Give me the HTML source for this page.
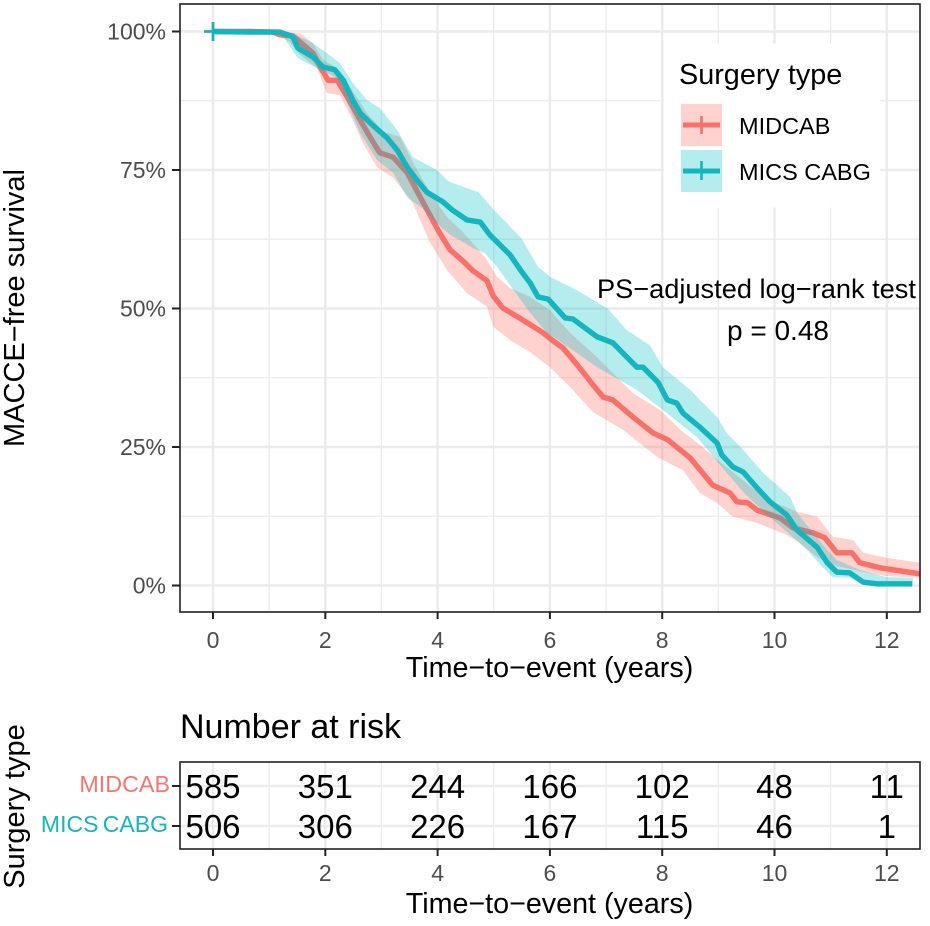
<!DOCTYPE html>
<html>
<head>
<meta charset="utf-8">
<style>
html,body{margin:0;padding:0;background:#fff;width:930px;height:926px;overflow:hidden}
svg{display:block}
text{font-family:"Liberation Sans",sans-serif}
</style>
</head>
<body>
<svg id="chart" xmlns="http://www.w3.org/2000/svg" width="930" height="926" viewBox="0 0 930 926">
<defs>
<clipPath id="main-clip"><rect x="180" y="4" width="740" height="608"/></clipPath>
</defs>
<rect x="0" y="0" width="930" height="926" fill="#fff"/>
<g id="main-grid"></g>
<g id="main-marks" clip-path="url(#main-clip)"></g>
<rect x="664" y="43.5" width="216" height="164" fill="#fff"/>
<rect x="180" y="4" width="740" height="608" fill="none" stroke="#222" stroke-width="1.6"/>
<g id="main-axes"></g>

<text x="24" y="308" transform="rotate(-90 24 308)" text-anchor="middle" font-size="29" fill="#000">MACCE−free survival</text>
<text x="549.5" y="677" text-anchor="middle" font-size="28.7" fill="#000">Time−to−event (years)</text>

<g>
<text x="679" y="84" font-size="28.8" fill="#000">Surgery type</text>
<g>
<rect x="681" y="104" width="41" height="42" fill="#F8766D" fill-opacity="0.33"/>
<line x1="683" y1="125" x2="720" y2="125" stroke="#F8706A" stroke-width="5"/>
<line x1="701.5" y1="116" x2="701.5" y2="134" stroke="#F8706A" stroke-width="2.6"/>
<text x="739" y="134" font-size="23.5" fill="#000">MIDCAB</text>
</g>
<g>
<rect x="681" y="150" width="41" height="42" fill="#00BFC4" fill-opacity="0.29"/>
<line x1="683" y1="171" x2="720" y2="171" stroke="#14B5BC" stroke-width="5"/>
<line x1="701.5" y1="161" x2="701.5" y2="180" stroke="#14B5BC" stroke-width="2.6"/>
<text x="739" y="180" font-size="23.5" fill="#000">MICS CABG</text>
</g>
</g>

<text x="597" y="298" font-size="27.2" fill="#000">PS−adjusted log−rank test</text>
<text x="778" y="340" text-anchor="middle" font-size="28" fill="#000">p = 0.48</text>

<text x="180" y="738" font-size="34" fill="#000">Number at risk</text>
<g id="risk-grid"></g>
<rect x="180" y="762" width="740" height="87" fill="none" stroke="#222" stroke-width="1.6"/>
<g id="risk-body"></g>
<text x="24" y="806.5" transform="rotate(-90 24 806.5)" text-anchor="middle" font-size="29" fill="#000">Surgery type</text>
<text x="549.5" y="913" text-anchor="middle" font-size="28.7" fill="#000">Time−to−event (years)</text>
</svg>

<script>
// ---- axis ticks ----
const xMajorTicks = [0, 2, 4, 6, 8, 10, 12];
const xMinorTicks = [1, 3, 5, 7, 9, 11];
const yMajorTicks = [0, 25, 50, 75, 100];
const yMinorTicks = [12.5, 37.5, 62.5, 87.5];

// ---- MIDCAB series (years, % survival) ----
const midcabTime = [0,0.69,1.07,1.19,1.42,1.55,1.78,1.96,2.05,2.21,2.39,2.49,2.65,2.83,2.97,3.21,3.46,3.69,3.92,4.04,4.22,4.45,4.63,4.88,4.99,5.16,5.52,5.88,6.04,6.23,6.48,6.77,6.95,7.12,7.48,7.84,8.10,8.50,8.90,9.21,9.33,9.53,9.69,10.10,10.33,10.69,10.90,11.11,11.38,11.52,11.88,12.59];
const midcabSurv = [100,100,99.9,99.4,99.2,98.1,96.1,92.7,91.2,91.2,88.2,86.4,83.5,80.4,78.1,77.3,74.5,70.1,65.8,63.6,60.6,58.6,56.8,55.0,52.3,50.1,47.9,45.6,44.3,42.9,39.9,36.2,34.0,33.5,30.4,27.5,26.3,23.0,18.1,16.7,15.1,14.9,13.6,12.2,10.4,9.5,8.6,5.9,5.9,4.1,3.2,2.1];
const midcabUpperTime = [1.1,1.19,1.55,1.78,1.96,2.21,2.44,2.74,3.03,3.33,3.51,3.81,4.04,4.17,4.45,4.84,5.06,5.29,5.65,6.00,6.36,6.84,7.48,7.96,8.32,8.67,9.03,9.44,9.87,10.19,10.40,10.76,11.04,11.40,11.58,12.00,12.59];
const midcabUpper = [100,100,99.7,97.9,94.9,93.4,90.0,85.3,81.9,81.0,77.3,71.9,68.3,66.5,63.8,59.3,55.7,53.7,52.1,49.7,45.6,41.2,34.7,31.7,28.1,25.4,22.3,19.0,15.4,14.2,13.3,12.4,8.8,8.2,5.9,5.0,4.1];
const midcabLowerTime = [1.07,1.37,1.55,1.85,2.03,2.26,2.49,2.67,2.92,3.21,3.56,3.86,4.17,4.52,4.88,4.99,5.29,5.65,6.00,6.36,6.77,7.30,7.91,8.37,8.67,8.98,9.26,9.69,10.22,10.45,10.76,11.11,11.65,12.00,12.59];
const midcabLower = [99.8,98.1,95.8,93.4,88.9,88.5,84.0,79.9,75.5,73.6,69.0,62.0,56.9,52.8,50.3,46.7,44.3,42.1,39.4,35.8,31.3,28.1,23.2,20.8,16.7,14.9,12.4,11.3,9.1,7.7,5.1,3.5,2.3,1.7,1.4];

// ---- MICS CABG series (years, % survival) ----
const micsTime = [0,0.69,1.19,1.42,1.51,1.78,1.96,2.17,2.32,2.49,2.62,2.80,3.10,3.28,3.46,3.63,3.81,4.10,4.26,4.52,4.76,4.93,5.29,5.50,5.65,5.79,5.97,6.27,6.41,6.84,7.12,7.55,7.66,7.93,8.09,8.26,8.37,8.67,8.98,9.06,9.26,9.44,9.69,9.92,10.22,10.40,10.76,10.94,11.11,11.34,11.58,11.83,12.45];
const micsSurv = [100,99.9,99.9,99.1,97.0,95.4,93.6,93.1,91.2,87.6,85.3,83.5,80.8,78.6,75.5,73.2,71.0,69.2,67.8,66.0,65.6,63.3,59.7,56.6,54.6,52.1,51.7,48.3,48.1,44.9,43.8,39.4,39.4,36.6,33.5,32.9,31.1,28.6,25.7,23.6,21.4,20.5,17.6,15.1,12.7,10.0,6.9,4.1,2.4,2.3,0.6,0.3,0.3];
const micsUpperTime = [1.2,1.42,1.78,2.03,2.26,2.49,2.74,2.97,3.28,3.56,3.99,4.20,4.73,5.01,5.49,5.79,6.02,6.43,7.03,7.37,7.78,8.01,8.50,8.67,8.98,9.15,9.44,9.80,10.28,10.40,10.69,10.94,11.11,11.52,12.00,12.47];
const micsUpper = [100,99.7,97.9,96.1,94.3,90.7,87.6,86.2,82.2,77.3,75.0,72.9,71.0,67.7,62.7,57.5,55.6,53.6,50.0,46.1,43.4,39.4,35.3,33.5,30.4,27.5,24.5,20.3,16.0,13.1,9.5,6.4,4.6,2.8,1.5,1.4];
const micsLowerTime = [1.2,1.51,1.85,2.21,2.39,2.62,2.92,3.21,3.46,3.74,3.92,4.22,4.45,4.63,4.84,5.06,5.29,5.65,5.95,6.41,6.84,7.55,8.01,8.62,9.15,9.44,9.87,10.22,10.58,10.86,11.04,11.34,11.65,12.47];
const micsLower = [99.8,95.2,93.4,91.6,87.1,81.7,76.8,74.5,70.1,68.0,66.0,63.3,62.0,60.9,60.0,57.5,54.2,49.2,45.6,42.5,39.4,35.3,31.7,26.8,20.3,16.9,12.7,9.7,6.4,3.3,1.5,1.4,0.1,0];

// ---- number at risk ----
const riskTimes = [0, 2, 4, 6, 8, 10, 12];
const riskMidcab = [585, 351, 244, 166, 102, 48, 11];
const riskMics = [506, 306, 226, 167, 115, 46, 1];

const SVGNS = 'http://www.w3.org/2000/svg';
function xScale(t) { return 213 + t * 56.15; }
function yScale(p) { return 585.5 - p * 5.54; }
function riskRowY(i) { return 786 + i * 40; }

function make(tag, parent, attrs, text) {
  const el = document.createElementNS(SVGNS, tag);
  for (const k in attrs) el.setAttribute(k, attrs[k]);
  if (text !== undefined) el.textContent = text;
  parent.appendChild(el);
  return el;
}
function linePoints(ts, vs) {
  return ts.map(function (t, i) { return xScale(t).toFixed(1) + ',' + yScale(vs[i]).toFixed(1); });
}

const mainGrid = document.getElementById('main-grid');
const mainMarks = document.getElementById('main-marks');
const mainAxes = document.getElementById('main-axes');
const riskGrid = document.getElementById('risk-grid');
const riskBody = document.getElementById('risk-body');

xMinorTicks.forEach(function (t) {
  const a = make('line', mainGrid, {x1: xScale(t), x2: xScale(t), y1: 4, y2: 612, stroke: '#EBEBEB', 'stroke-width': 1.3});
  
  
  const b = make('line', riskGrid, {x1: xScale(t), x2: xScale(t), y1: 762, y2: 849, stroke: '#EBEBEB', 'stroke-width': 1.3});
  
  
});
yMinorTicks.forEach(function (p) {
  const a = make('line', mainGrid, {x1: 180, x2: 920, y1: yScale(p), y2: yScale(p), stroke: '#EBEBEB', 'stroke-width': 1.3});
  
  
});
xMajorTicks.forEach(function (t) {
  const a = make('line', mainGrid, {x1: xScale(t), x2: xScale(t), y1: 4, y2: 612, stroke: '#EBEBEB', 'stroke-width': 2.4});
  
  
  const b = make('line', riskGrid, {x1: xScale(t), x2: xScale(t), y1: 762, y2: 849, stroke: '#EBEBEB', 'stroke-width': 2.4});
  
  
  const c = make('line', mainAxes, {x1: xScale(t), x2: xScale(t), y1: 612, y2: 619, stroke: '#222', 'stroke-width': 2});
  
  
  const d = make('text', mainAxes, {x: xScale(t), y: 648, 'text-anchor': 'middle', 'font-size': 23, fill: '#4D4D4D'}, String(t));
  
  
  const e = make('line', mainAxes, {x1: xScale(t), x2: xScale(t), y1: 849, y2: 856, stroke: '#222', 'stroke-width': 2});
  
  
  const f = make('text', mainAxes, {x: xScale(t), y: 881, 'text-anchor': 'middle', 'font-size': 23, fill: '#4D4D4D'}, String(t));
  
  
});
yMajorTicks.forEach(function (p) {
  const a = make('line', mainGrid, {x1: 180, x2: 920, y1: yScale(p), y2: yScale(p), stroke: '#EBEBEB', 'stroke-width': 2.4});
  
  
  const b = make('line', mainAxes, {x1: 172, x2: 180, y1: yScale(p), y2: yScale(p), stroke: '#222', 'stroke-width': 2});
  
  
  const c = make('text', mainAxes, {x: 166, y: yScale(p) + 8, 'text-anchor': 'end', 'font-size': 23, fill: '#4D4D4D'}, p + '%');
  
  
});

function drawSeries(name, color, fill, opacity, t, s, ut, u, lt, l) {
  const pts = linePoints(ut, u).concat(linePoints(lt, l).reverse());
  const band = make('polygon', mainMarks, {points: pts.join(' '), fill: fill, 'fill-opacity': opacity, stroke: 'none'});
  
  
  const line = make('polyline', mainMarks, {points: linePoints(t, s).join(' '), fill: 'none', stroke: color, 'stroke-width': 5.4, 'stroke-linejoin': 'round'});
  
  
  const cx = xScale(t[0]);
  const cy = yScale(s[0]);
  const h = make('line', mainMarks, {x1: cx - 9, x2: cx + 9, y1: cy, y2: cy, stroke: color, 'stroke-width': 2.6});
  
  
  const v = make('line', mainMarks, {x1: cx, x2: cx, y1: cy - 9.5, y2: cy + 9.5, stroke: color, 'stroke-width': 2.6});
  
  
}
drawSeries('midcab', '#F8706A', '#F8766D', 0.33, midcabTime, midcabSurv, midcabUpperTime, midcabUpper, midcabLowerTime, midcabLower);
drawSeries('mics-cabg', '#14B5BC', '#00BFC4', 0.29, micsTime, micsSurv, micsUpperTime, micsUpper, micsLowerTime, micsLower);

[0, 1].forEach(function (i) {
  const y = riskRowY(i);
  const g = make('line', riskGrid, {x1: 180, x2: 920, y1: y, y2: y, stroke: '#EBEBEB', 'stroke-width': 2.4});
  
  
  const tk = make('line', mainAxes, {x1: 172, x2: 180, y1: y, y2: y, stroke: '#222', 'stroke-width': 2});
  
  
});
const lab1 = make('text', riskBody, {x: 170, y: riskRowY(0) + 6, 'text-anchor': 'end', 'font-size': 23.3, fill: '#F8766D'}, 'MIDCAB');


const lab2 = make('text', riskBody, {x: 168, y: riskRowY(1) + 6, 'text-anchor': 'end', 'font-size': 23, 'word-spacing': -2, fill: '#14B5BC'}, 'MICS CABG');



riskTimes.forEach(function (t, i) {
  const a = make('text', riskBody, {x: xScale(t), y: riskRowY(0) + 12, 'text-anchor': 'middle', 'font-size': 33, fill: '#000'}, String(riskMidcab[i]));
  
  
  const b = make('text', riskBody, {x: xScale(t), y: riskRowY(1) + 12, 'text-anchor': 'middle', 'font-size': 33, fill: '#000'}, String(riskMics[i]));
  
  
});
</script>
</body>
</html>
